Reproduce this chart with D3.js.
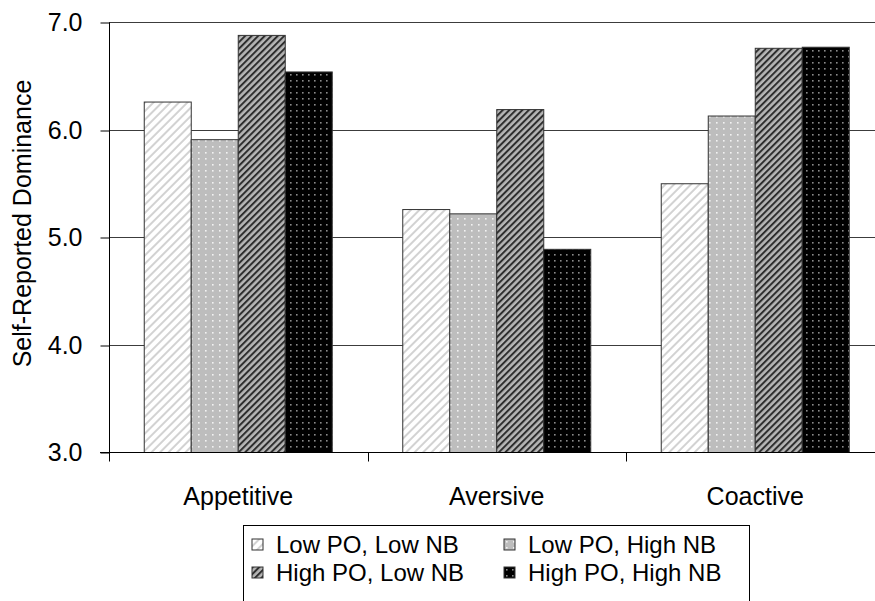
<!DOCTYPE html>
<html>
<head>
<meta charset="utf-8">
<script src="https://cdn.jsdelivr.net/npm/d3@7"></script>
<style>
  html, body { margin: 0; padding: 0; background: #fff; }
  svg { display: block; font-family: "Liberation Sans", Arial, sans-serif; }
</style>
</head>
<body>
<svg id="chart" width="875" height="601"></svg>
<script>
// Conditions (x-axis groups)
const categories = ["Appetitive", "Aversive", "Coactive"];
// Series (legend entries)
const seriesNames = ["Low PO, Low NB", "Low PO, High NB", "High PO, Low NB", "High PO, High NB"];
// Mean self-reported dominance per series, one value per category
const lowPOLowNB   = [6.26, 5.26, 5.50];
const lowPOHighNB  = [5.91, 5.22, 6.13];
const highPOLowNB  = [6.88, 6.19, 6.76];
const highPOHighNB = [6.54, 4.89, 6.77];
const yTicks = [3, 4, 5, 6, 7];
const yTitle = "Self-Reported Dominance";

const seriesValues = [lowPOLowNB, lowPOHighNB, highPOLowNB, highPOHighNB];
const rows = [];
categories.forEach((c, ci) => {
  seriesNames.forEach((s, si) => rows.push({ category: c, series: s, si, value: seriesValues[si][ci] }));
});

const svg = d3.select("#chart");
const W = 875;

// Fill patterns
const defs = svg.append("defs");
// light diagonal hatch on white
const p0 = defs.append("pattern").attr("id", "pat0").attr("patternUnits", "userSpaceOnUse")
  .attr("width", 6).attr("height", 6).attr("patternTransform", "rotate(45)");
p0.append("rect").attr("width", 6).attr("height", 6).attr("fill", "#fff");
p0.append("rect").attr("x", 0).attr("y", 0).attr("width", 2).attr("height", 6).attr("fill", "#d2d2d2");
// white dots on light grey
const p1 = defs.append("pattern").attr("id", "pat1").attr("patternUnits", "userSpaceOnUse")
  .attr("width", 7).attr("height", 6);
p1.append("rect").attr("width", 7).attr("height", 6).attr("fill", "#bdbdbd");
p1.append("rect").attr("x", 2).attr("y", 2).attr("width", 1.6).attr("height", 1.6).attr("fill", "#f2f2f2");
// dark diagonal stripes on grey
const p2 = defs.append("pattern").attr("id", "pat2").attr("patternUnits", "userSpaceOnUse")
  .attr("width", 4.6).attr("height", 4.6).attr("patternTransform", "rotate(45)");
p2.append("rect").attr("width", 4.6).attr("height", 4.6).attr("fill", "#b6b6b6");
p2.append("rect").attr("x", 0).attr("y", 0).attr("width", 2).attr("height", 4.6).attr("fill", "#2e2e2e");
// grey dots on black
const p3 = defs.append("pattern").attr("id", "pat3").attr("patternUnits", "userSpaceOnUse")
  .attr("width", 6).attr("height", 6);
p3.append("rect").attr("width", 6).attr("height", 6).attr("fill", "#000");
p3.append("rect").attr("x", 2).attr("y", 2).attr("width", 1.6).attr("height", 1.6).attr("fill", "#8a8a8a");
const fills = ["url(#pat0)", "url(#pat1)", "url(#pat2)", "url(#pat3)"];

// Scales
const x0 = d3.scaleBand().domain(categories).range([109, 884.5]).paddingInner(0).paddingOuter(0);
const x1 = d3.scaleBand().domain(seriesNames).range([0, x0.bandwidth()]).paddingInner(0).paddingOuter(0.75);
const y = d3.scaleLinear().domain([3, 7]).range([452.5, 22.5]);
const crisp = v => Math.floor(v) + 0.5;

// Horizontal gridlines
svg.append("g").selectAll("line").data(yTicks.filter(t => t > 3)).join("line")
  .attr("x1", 109).attr("x2", W)
  .attr("y1", d => crisp(y(d))).attr("y2", d => crisp(y(d)))
  .attr("stroke", "#3c3c3c").attr("stroke-width", 1);

// Bars
svg.append("g").selectAll("rect").data(rows).join("rect")
  .attr("x", d => x0(d.category) + x1(d.series))
  .attr("y", d => y(d.value))
  .attr("width", x1.bandwidth())
  .attr("height", d => y(3) - y(d.value))
  .attr("fill", d => fills[d.si])
  .attr("stroke", "#333").attr("stroke-width", 1);

// Y axis
const yAxis = svg.append("g").attr("transform", "translate(109.5,0)")
  .call(d3.axisLeft(y).tickValues(yTicks).tickFormat(d3.format(".1f")).tickSize(9).tickPadding(18));
yAxis.select(".domain").attr("d", `M0,${y(7)}V${crisp(y(3)) + 9}`).attr("stroke", "#000");
yAxis.selectAll(".tick line").attr("stroke", "#000").attr("transform", d => `translate(0,${crisp(y(d)) - y(d)})`);
yAxis.selectAll(".tick text").attr("font-size", 25).attr("fill", "#000")
  .attr("font-family", "'Liberation Sans', Arial, sans-serif");

// X axis (category boundaries as ticks)
const xg = svg.append("g").attr("transform", `translate(0,${crisp(y(3))})`);
xg.append("line").attr("x1", 100).attr("x2", W).attr("stroke", "#000");
xg.selectAll("line.bound").data(categories.slice(1)).join("line").attr("class", "bound")
  .attr("x1", d => Math.round(x0(d)) + 0.5).attr("x2", d => Math.round(x0(d)) + 0.5)
  .attr("y1", 0).attr("y2", 9).attr("stroke", "#000");
xg.selectAll("text").data(categories).join("text")
  .attr("x", d => x0(d) + x0.bandwidth() / 2)
  .attr("y", 52)
  .attr("text-anchor", "middle").attr("font-size", 25).attr("fill", "#000")
  .text(d => d);

// Y-axis title
svg.append("text").attr("transform", "translate(31,223.5) rotate(-90)")
  .attr("text-anchor", "middle").attr("font-size", 25).attr("fill", "#000").text(yTitle);

// Legend
const lg = svg.append("g");
lg.append("rect").attr("x", 243.5).attr("y", 525.5).attr("width", 506).attr("height", 90)
  .attr("fill", "#fff").attr("stroke", "#000");
const colX = [252, 504];
const rowY = [545, 573];
const items = lg.selectAll("g.item").data(seriesNames).join("g").attr("class", "item")
  .attr("transform", (d, i) => `translate(${colX[i % 2]},${rowY[Math.floor(i / 2)]})`);
items.append("rect").attr("x", 0).attr("y", -6).attr("width", 11).attr("height", 11)
  .attr("fill", (d, i) => fills[i]).attr("stroke", "#333");
items.append("text").attr("x", 24).attr("y", 0).attr("dy", "0.35em")
  .attr("font-size", 24).attr("fill", "#000").text(d => d);
</script>
</body>
</html>
